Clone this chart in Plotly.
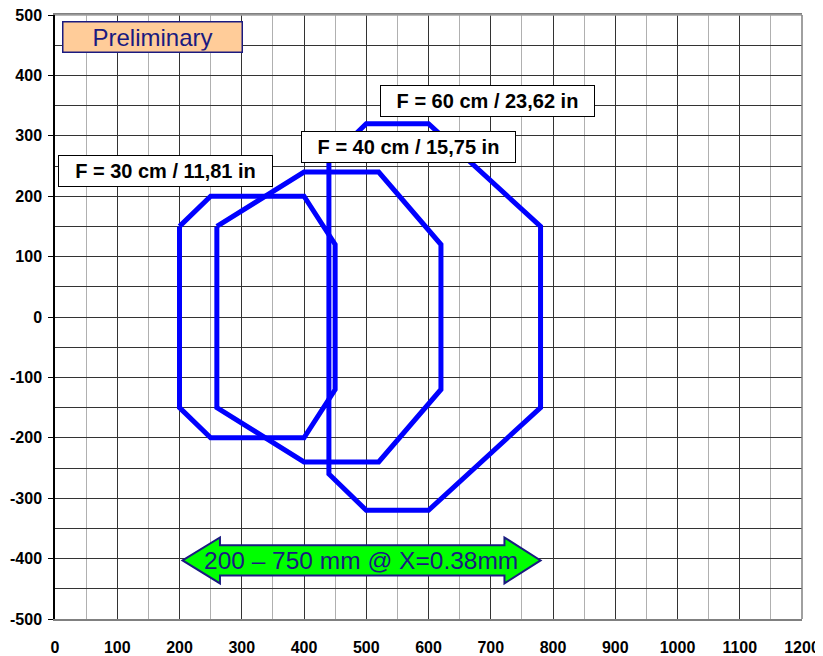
import plotly.graph_objects as go

# Data: octagonal read-range shapes (x, y in mm)
f30_x = [200, 250, 400, 450, 450, 400, 250, 200, 200]
f30_y = [150, 200, 200, 120, -120, -200, -200, -150, 150]
f40_x = [260, 400, 520, 620, 620, 520, 400, 260, 260]
f40_y = [150, 240, 240, 120, -120, -240, -240, -150, 150]
f60_x = [440, 500, 600, 780, 780, 600, 500, 440, 440]
f60_y = [260, 320, 320, 150, -150, -320, -320, -260, 260]

labels = ["F = 30 cm / 11,81 in", "F = 40 cm / 15,75 in", "F = 60 cm / 23,62 in"]
label_x = [177, 568, 695]
label_y = [242, 282, 358]

x_ticks = list(range(0, 1201, 100))
y_ticks = list(range(-500, 501, 100))

FONT = "Arial, Liberation Sans, sans-serif"
BLUE = "#0000FF"
NAVY = "#1A1A80"

fig = go.Figure()
for xs, ys in [(f30_x, f30_y), (f40_x, f40_y), (f60_x, f60_y)]:
    fig.add_trace(go.Scatter(x=xs, y=ys, mode="lines",
                             line=dict(color=BLUE, width=5),
                             hoverinfo="skip", showlegend=False))

# Double arrow (range indicator)
arrow_path = ("M 205,-403 L 265,-365 L 265,-378 L 722,-378 L 722,-365 "
              "L 780,-403 L 722,-441 L 722,-428 L 265,-428 L 265,-441 Z")
fig.add_shape(type="path", path=arrow_path, xref="x", yref="y",
              fillcolor="#00FF00", line=dict(color=NAVY, width=2))
fig.add_annotation(x=492, y=-403, xref="x", yref="y", text="200 – 750 mm @ X=0.38mm",
                   showarrow=False, font=dict(family=FONT, size=24.5, color=NAVY))

# Preliminary box
fig.add_annotation(x=156, y=464, xref="x", yref="y", text="Preliminary",
                   showarrow=False, font=dict(family=FONT, size=24, color=NAVY),
                   bgcolor="#FFCC99", bordercolor=NAVY, borderwidth=1.5,
                   width=176, height=27, borderpad=1)

for t, x, y in zip(labels, label_x, label_y):
    fig.add_annotation(x=x, y=y, xref="x", yref="y", text="<b>" + t + "</b>",
                       showarrow=False, font=dict(family=FONT, size=20, color="black"),
                       bgcolor="white", bordercolor="black", borderwidth=1,
                       width=211, height=28, borderpad=1)

# page body adds an 8px offset; compensate in size and margins
fig.update_layout(
    width=815, height=648,
    margin=dict(l=47, r=21, t=7, b=37),
    paper_bgcolor="white", plot_bgcolor="white",
    showlegend=False,
    font=dict(family=FONT),
)
fig.update_xaxes(
    range=[0, 1200], tickvals=x_ticks, ticktext=["<b>%d</b>" % v for v in x_ticks],
    automargin=False, ticklabeloverflow="allow",
    showgrid=True, gridcolor="#333333", gridwidth=1,
    minor=dict(dtick=50, tick0=0, showgrid=True, gridcolor="#B0B0B0", gridwidth=1),
    zeroline=False, showline=True, linecolor="#808080", linewidth=1.5, mirror=True,
    ticks="", tickfont=dict(family=FONT, size=16, color="black"),
    ticklabelstandoff=13,
)
fig.update_yaxes(
    range=[-500, 500], tickvals=y_ticks, ticktext=["<b>%d</b>" % v for v in y_ticks],
    automargin=False, ticklabeloverflow="allow",
    showgrid=True, gridcolor="#333333", gridwidth=1,
    minor=dict(dtick=50, tick0=0, showgrid=True, gridcolor="#333333", gridwidth=1),
    zeroline=False, showline=True, linecolor="#000000", linewidth=1.5, mirror=False,
    ticks="outside", ticklen=5, tickcolor="black",
    tickfont=dict(family=FONT, size=16, color="black"),
    ticklabelstandoff=3,
)
fig.add_shape(type="line", xref="paper", yref="paper", x0=0, x1=1, y0=1, y1=1,
              line=dict(color="#A0A0A0", width=1.5))
fig.add_shape(type="line", xref="paper", yref="paper", x0=1, x1=1, y0=0, y1=1,
              line=dict(color="#808080", width=1.5))

fig.write_html("out.html")
